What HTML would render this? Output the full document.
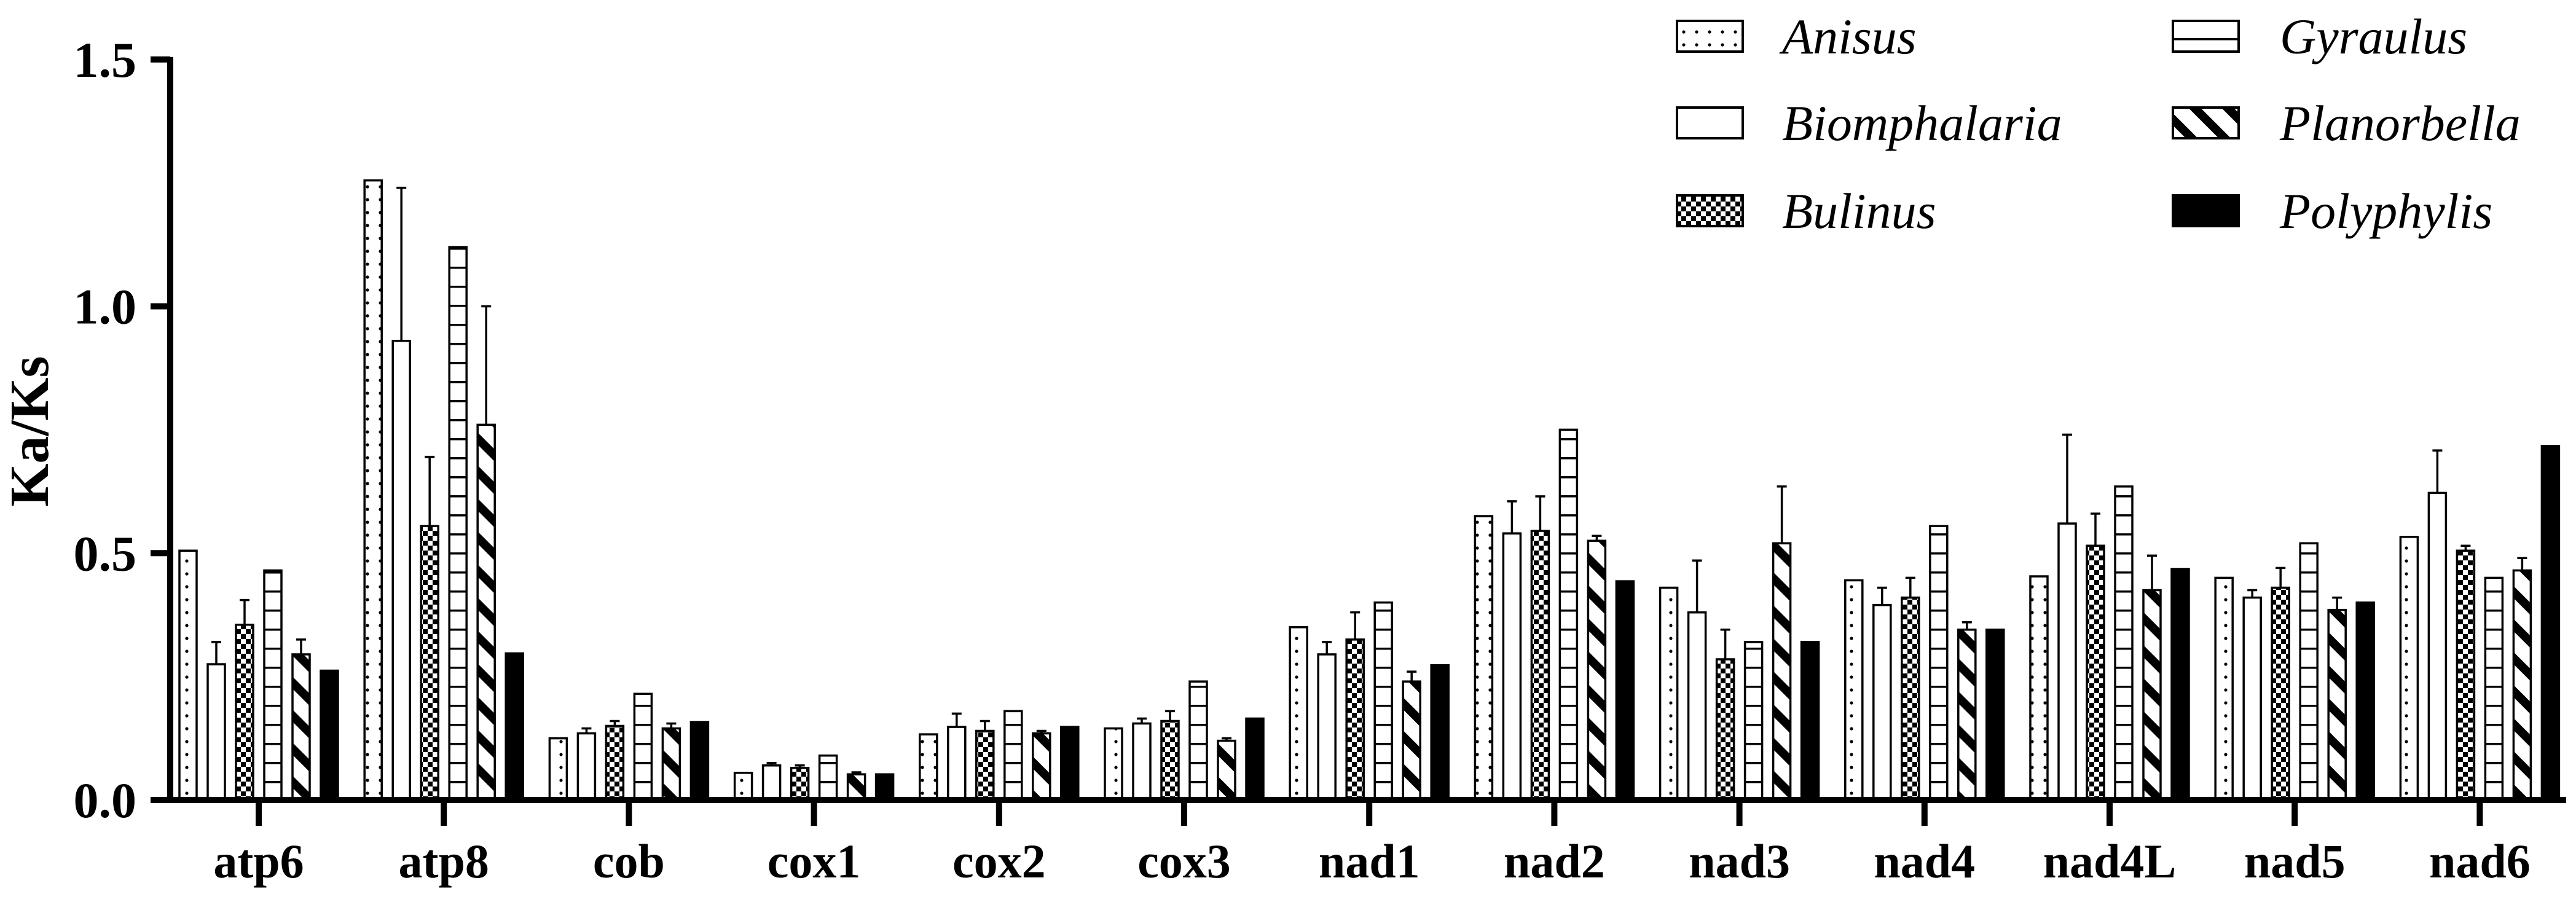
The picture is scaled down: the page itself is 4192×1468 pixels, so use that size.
<!DOCTYPE html>
<html><head><meta charset="utf-8"><style>
html,body{margin:0;padding:0;background:#fff;width:4192px;height:1468px;overflow:hidden}
svg{display:block}
text{font-family:"Liberation Serif",serif}
</style></head><body>
<svg id="chart" width="4192" height="1468" viewBox="0 0 4192 1468" xmlns="http://www.w3.org/2000/svg">
<defs>
<pattern id="p-dots" patternUnits="userSpaceOnUse" width="21" height="21"><rect width="21" height="21" fill="#fff"/><circle cx="10" cy="10" r="2.6" fill="#000"/></pattern>
<pattern id="p-check" patternUnits="userSpaceOnUse" width="16" height="16"><rect width="16" height="16" fill="#fff"/><rect width="8" height="8" fill="#000"/><rect x="8" y="8" width="8" height="8" fill="#000"/></pattern>
<pattern id="p-hlines" patternUnits="userSpaceOnUse" width="31" height="31"><rect width="31" height="31" fill="#fff"/><rect y="0" width="31" height="3.5" fill="#000"/></pattern>
<pattern id="p-diag" patternUnits="userSpaceOnUse" width="38" height="38" patternTransform="rotate(-45)"><rect width="38" height="38" fill="#fff"/><rect width="14" height="38" fill="#000"/></pattern>
</defs>
<g id="marks"></g>
<g id="axes"></g>
<g id="legend"></g>
</svg>
<script>
const categories = ["atp6","atp8","cob","cox1","cox2","cox3","nad1","nad2","nad3","nad4","nad4L","nad5","nad6"];
const seriesNames = ["Anisus","Biomphalaria","Bulinus","Gyraulus","Planorbella","Polyphylis"];
const anisus =       [0.505,1.255,0.125,0.055,0.133,0.145,0.350,0.575,0.430,0.445,0.453,0.450,0.533];
const biomphalaria = [0.275,0.930,0.135,0.070,0.148,0.155,0.295,0.540,0.380,0.395,0.560,0.410,0.622];
const bulinus =      [0.355,0.555,0.150,0.065,0.140,0.160,0.325,0.545,0.285,0.410,0.515,0.430,0.505];
const gyraulus =     [0.465,1.120,0.215,0.090,0.180,0.240,0.400,0.750,0.320,0.555,0.635,0.520,0.450];
const planorbella =  [0.295,0.760,0.145,0.052,0.135,0.120,0.240,0.525,0.520,0.345,0.425,0.385,0.465];
const polyphylis =   [0.262,0.297,0.158,0.052,0.148,0.165,0.273,0.443,0.320,0.345,0.468,0.400,0.717];
const biomphalariaErr = [0.320,1.240,0.145,0.075,0.175,0.165,0.320,0.605,0.485,0.430,0.740,0.425,0.708];
const bulinusErr =      [0.405,0.695,0.160,0.070,0.160,0.180,0.380,0.615,0.345,0.450,0.580,0.470,0.515];
const planorbellaErr =  [0.325,1.000,0.155,0.056,0.140,0.125,0.260,0.535,0.635,0.360,0.495,0.410,0.490];
const yTicks = [0.0,0.5,1.0,1.5];
const yTickLabels = ["0.0","0.5","1.0","1.5"];

const NS="http://www.w3.org/2000/svg";
const X0=421, STEP=301.2, PITCH=46, BW=31;
const Y0=1302, YPX=803.5;
function xC(i){return X0+i*STEP;}
function yS(v){return Y0-v*YPX;}
function mk(tag,attrs,parent){const e=document.createElementNS(NS,tag);for(const k in attrs)e.setAttribute(k,attrs[k]);parent.appendChild(e);return e;}
const fills=["url(#p-dots)","#fff","url(#p-check)","url(#p-hlines)","url(#p-diag)","#000"];
const series=[anisus,biomphalaria,bulinus,gyraulus,planorbella,polyphylis];
const errs=[null,biomphalariaErr,bulinusErr,null,planorbellaErr,null];
const marks=document.getElementById('marks');
series.forEach((vals,s)=>{
  vals.forEach((v,i)=>{
    const cx=xC(i)+(s-2.5)*PITCH;
    const e=errs[s];
    if(e){
      const ln=mk('line',{x1:cx,x2:cx,y1:yS(v),y2:yS(e[i]),stroke:'#000','stroke-width':3.5},marks);
      
      
      const cp=mk('line',{x1:cx-8,x2:cx+8,y1:yS(e[i]),y2:yS(e[i]),stroke:'#000','stroke-width':3.5},marks);
      
      
    }
    const r=mk('rect',{x:cx-BW/2+1.5,y:yS(v),width:BW-3,height:Y0-yS(v),fill:fills[s],stroke:'#000','stroke-width':3.5},marks);
    
    
  });
});
const axes=document.getElementById('axes');
const ya=mk('line',{x1:277,x2:277,y1:yS(1.5)-4,y2:Y0+5,stroke:'#000','stroke-width':10},axes);


const xa=mk('line',{x1:272,x2:4176,y1:Y0,y2:Y0,stroke:'#000','stroke-width':10},axes);


yTicks.forEach((t,k)=>{
  const tk=mk('line',{x1:245,x2:277,y1:yS(t),y2:yS(t),stroke:'#000','stroke-width':10},axes);
  
  
  const tx=mk('text',{x:222,y:yS(t)+28,'text-anchor':'end','font-size':82,'font-weight':'bold'},axes);
  tx.textContent=yTickLabels[k];
  
  
});
categories.forEach((c,i)=>{
  const tk=mk('line',{x1:xC(i),x2:xC(i),y1:Y0,y2:Y0+42,stroke:'#000','stroke-width':10},axes);
  
  
  const tx=mk('text',{x:xC(i),y:1428,'text-anchor':'middle','font-size':78,'font-weight':'bold'},axes);
  tx.textContent=c;
  
  
});
const yt=mk('text',{x:0,y:0,transform:'translate(78,702) rotate(-90)','text-anchor':'middle','font-size':90,'font-weight':'bold'},axes);
yt.textContent='Ka/Ks';


const lg=document.getElementById('legend');
const legX=[2727,3534], legTX=[2900,3710], legY=[59,200,343];
seriesNames.forEach((n,s)=>{
  const col=Math.floor(s/3), row=s%3;
  const sw=mk('rect',{x:legX[col]+2,y:legY[row]-25,width:107,height:50,fill:fills[s],stroke:'#000','stroke-width':4},lg);
  
  
  const tx=mk('text',{x:legTX[col],y:legY[row]+28,'font-size':82,'font-style':'italic'},lg);
  tx.textContent=n;
  
  
});
</script>
</body></html>
